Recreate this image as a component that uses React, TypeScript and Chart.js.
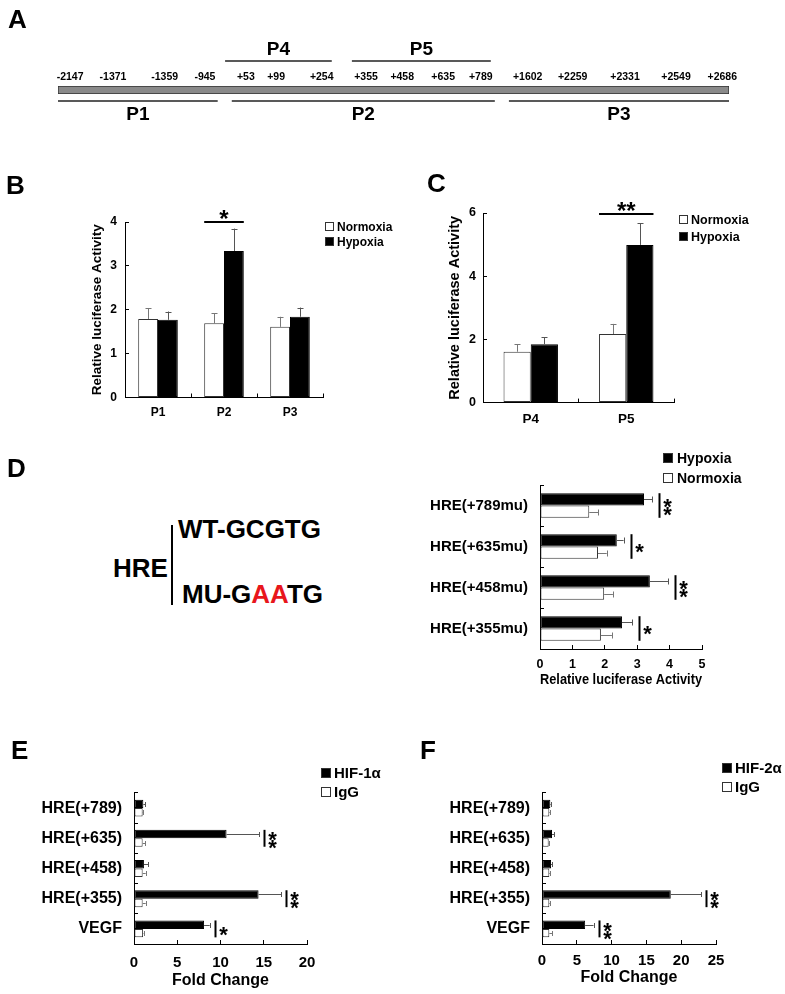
import React, { useEffect, useRef } from 'react';
import { Chart, registerables } from 'chart.js';

Chart.register(...registerables);

const FONT = '"Liberation Sans", Arial, Helvetica, sans-serif';
const NARROW = '"Liberation Sans Narrow", "Arial Narrow", "Liberation Sans", sans-serif';
Chart.defaults.font.family = FONT;
Chart.defaults.font.weight = 'bold';
Chart.defaults.color = '#000';

// ---------------- Panel A: promoter construct map ----------------
const siteLabels = ['-2147', '-1371', '-1359', '-945', '+53', '+99', '+254', '+355', '+458', '+635', '+789', '+1602', '+2259', '+2331', '+2549', '+2686'];
const sitePos = [1.8, 8.2, 15.9, 21.9, 28.0, 32.5, 39.3, 45.9, 51.3, 57.4, 63.0, 70.0, 76.7, 84.5, 92.1, 99.0];
const fragNames = ['P1', 'P2', 'P3', 'P4', 'P5'];
const fragStart = [0, 25.9, 67.2, 24.9, 43.8];
const fragEnd = [23.8, 65.1, 100, 40.8, 64.5];
const fragAbove = [false, false, false, true, true];
const constructSpan = [0, 100];

// ---------------- Panel B ----------------
const bCats = ['P1', 'P2', 'P3'];
const bNormoxia = [1.79, 1.69, 1.61];
const bNormoxiaSD = [0.25, 0.23, 0.23];
const bHypoxia = [1.77, 3.34, 1.84];
const bHypoxiaSD = [0.19, 0.51, 0.21];
const bSig = [{ index: 1, text: '*' }];
const bMax = 4;
const bStep = 1;

// ---------------- Panel C ----------------
const cCats = ['P4', 'P5'];
const cNormoxia = [1.61, 2.17];
const cNormoxiaSD = [0.24, 0.32];
const cHypoxia = [1.85, 4.99];
const cHypoxiaSD = [0.22, 0.68];
const cSig = [{ index: 1, text: '**' }];
const cMax = 6;
const cStep = 2;

// ---------------- Panel D ----------------
const dCats = ['HRE(+789mu)', 'HRE(+635mu)', 'HRE(+458mu)', 'HRE(+355mu)'];
const dHypoxia = [3.21, 2.37, 3.39, 2.53];
const dHypoxiaSD = [0.25, 0.21, 0.56, 0.31];
const dNormoxia = [1.52, 1.79, 1.98, 1.88];
const dNormoxiaSD = [0.27, 0.27, 0.27, 0.34];
const dSig = [{ index: 0, text: '**' }, { index: 1, text: '*' }, { index: 2, text: '**' }, { index: 3, text: '*' }];
const dMax = 5;
const dStep = 1;

// ---------------- Panel E ----------------
const eCats = ['HRE(+789)', 'HRE(+635)', 'HRE(+458)', 'HRE(+355)', 'VEGF'];
const eHif1a = [1.08, 10.7, 1.15, 14.4, 8.1];
const eHif1aSD = [0.2, 3.75, 0.5, 2.6, 0.65];
const eIgG = [1.0, 1.0, 1.0, 1.0, 1.05];
const eIgGSD = [0.08, 0.3, 0.35, 0.35, 0.05];
const eSig = [{ index: 1, text: '**' }, { index: 3, text: '**' }, { index: 4, text: '*' }];
const eMax = 20;
const eStep = 5;

// ---------------- Panel F ----------------
const fCats = ['HRE(+789)', 'HRE(+635)', 'HRE(+458)', 'HRE(+355)', 'VEGF'];
const fHif2a = [1.2, 1.44, 1.3, 18.5, 6.2];
const fHif2aSD = [0.1, 0.33, 0.14, 4.4, 1.2];
const fIgG = [1.05, 0.96, 1.05, 1.05, 1.05];
const fIgGSD = [0.1, 0.1, 0.1, 0.1, 0.39];
const fSig = [{ index: 3, text: '**' }, { index: 4, text: '**' }];
const fMax = 25;
const fStep = 5;

// ---------------- plugins ----------------
const errorBarPlugin = {
  id: 'errorBars',
  afterDatasetsDraw(chart: any, _a: any, o: any) {
    const { ctx } = chart;
    const horiz = chart.options.indexAxis === 'y';
    const vScale = horiz ? chart.scales.x : chart.scales.y;
    chart.data.datasets.forEach((ds: any, di: number) => {
      const errs = o.errors?.[di];
      if (!errs) return;
      const meta = chart.getDatasetMeta(di);
      meta.data.forEach((el: any, i: number) => {
        const v = ds.data[i] as number;
        const e = errs[i];
        if (!e) return;
        const end = vScale.getPixelForValue(v + e);
        const p = el.getProps(['x', 'y', 'width', 'height'], true);
        const cap = o.cap ?? 6;
        ctx.save();
        ctx.strokeStyle = o.colors?.[di] ?? '#555';
        ctx.lineWidth = 1;
        ctx.beginPath();
        if (horiz) {
          const y = Math.round(p.y) + 0.5;
          ctx.moveTo(p.x, y);
          ctx.lineTo(end, y);
          ctx.moveTo(Math.round(end) + 0.5, y - cap / 2);
          ctx.lineTo(Math.round(end) + 0.5, y + cap / 2);
        } else {
          const x = Math.round(p.x) + 0.5;
          ctx.moveTo(x, p.y);
          ctx.lineTo(x, end);
          ctx.moveTo(x - cap / 2, Math.round(end) + 0.5);
          ctx.lineTo(x + cap / 2, Math.round(end) + 0.5);
        }
        ctx.stroke();
        ctx.restore();
      });
    });
  },
};

const STAR_RISE = 0.58;

const sigPlugin = {
  id: 'sig',
  afterDatasetsDraw(chart: any, _a: any, o: any) {
    if (!o.marks) return;
    const { ctx, chartArea } = chart;
    const horiz = chart.options.indexAxis === 'y';
    const errs = chart.options.plugins.errorBars?.errors ?? [];
    const size = o.size ?? 22;
    ctx.save();
    ctx.fillStyle = '#000';
    ctx.strokeStyle = '#000';
    ctx.lineWidth = o.lineWidth ?? 2;
    ctx.font = `bold ${size}px ${FONT}`;
    ctx.textAlign = 'center';
    ctx.textBaseline = 'alphabetic';
    o.marks.forEach((m: any) => {
      const els = chart.data.datasets.map((_: any, di: number) => chart.getDatasetMeta(di).data[m.index].getProps(['x', 'y', 'width', 'height'], true));
      if (!horiz) {
        const left = Math.min(...els.map((p: any) => p.x - p.width / 2));
        const right = Math.max(...els.map((p: any) => p.x + p.width / 2));
        const y = chartArea.top + (o.lineDy ?? 0);
        ctx.beginPath();
        ctx.moveTo(left, y);
        ctx.lineTo(right, y);
        ctx.stroke();
        ctx.fillText(m.text, (left + right) / 2, y - (o.starGap ?? 9) + STAR_RISE * size);
      } else {
        const top = Math.min(...els.map((p: any) => p.y - p.height / 2));
        const bottom = Math.max(...els.map((p: any) => p.y + p.height / 2));
        const xEnd = Math.max(...chart.data.datasets.map((ds: any, di: number) =>
          chart.scales.x.getPixelForValue((ds.data[m.index] as number) + (errs[di]?.[m.index] ?? 0))));
        const x = Math.round(xEnd + (o.gap ?? 5)) + 0.5;
        ctx.beginPath();
        ctx.moveTo(x, top);
        ctx.lineTo(x, bottom);
        ctx.stroke();
        const chars = m.text.split('');
        const cy = (top + bottom) / 2;
        const sp = o.spacing ?? 8;
        chars.forEach((ch: string, k: number) => {
          const yy = cy + (k - (chars.length - 1) / 2) * sp;
          ctx.fillText(ch, x + (o.starDx ?? 8), yy + STAR_RISE * size);
        });
      }
    });
    ctx.restore();
  },
};

const boxLegendPlugin = {
  id: 'boxLegend',
  afterDraw(chart: any, _a: any, o: any) {
    if (!o.items) return;
    const { ctx, chartArea } = chart;
    ctx.save();
    ctx.font = `bold ${o.size}px ${FONT}`;
    ctx.textBaseline = 'middle';
    ctx.textAlign = 'left';
    o.items.forEach((di: number, row: number) => {
      const ds = chart.data.datasets[di];
      const x = Math.round(chartArea.right + o.dx);
      const y = Math.round(chartArea.top + o.dy + row * o.row);
      ctx.fillStyle = ds.backgroundColor;
      ctx.fillRect(x, y, o.box, o.box);
      ctx.strokeStyle = '#333';
      ctx.lineWidth = 1;
      ctx.strokeRect(x + 0.5, y + 0.5, o.box - 1, o.box - 1);
      ctx.fillStyle = '#000';
      ctx.fillText(ds.label, x + o.box + (o.gap ?? 3), y + o.box / 2 + 1);
    });
    ctx.restore();
  },
};

const fragmentPlugin = {
  id: 'fragments',
  afterDatasetsDraw(chart: any, _a: any, o: any) {
    const { ctx, chartArea } = chart;
    const xs = chart.scales.x;
    ctx.save();
    ctx.strokeStyle = '#222';
    ctx.lineWidth = 1.5;
    ctx.fillStyle = '#000';
    ctx.font = `bold ${o.size}px ${NARROW}`;
    ctx.textAlign = 'center';
    ctx.textBaseline = 'middle';
    fragNames.forEach((name, i) => {
      const x1 = xs.getPixelForValue(fragStart[i]);
      const x2 = xs.getPixelForValue(fragEnd[i]);
      const ly = fragAbove[i] ? chartArea.top - o.aboveLine : chartArea.bottom + o.belowLine;
      const ty = fragAbove[i] ? chartArea.top - o.aboveText : chartArea.bottom + o.belowText;
      ctx.beginPath();
      ctx.moveTo(x1, ly);
      ctx.lineTo(x2, ly);
      ctx.stroke();
      ctx.fillText(name, (x1 + x2) / 2, ty);
    });
    ctx.restore();
  },
};

// ---------------- config builders ----------------
type Rect = { x: number; y: number; w: number; h: number };
type Area = { l: number; t: number; r: number; b: number };
const TICK = 4;

function barConfig(s: any) {
  const horiz = !!s.horizontal;
  const padLeft = s.leftTitle ? s.leftTitle.cx - s.canvas.x - (s.leftTitle.size * 1.2) / 2 : 0;
  const wy = s.area.l - s.canvas.x - padLeft;
  const hx = s.bottomTitle ? s.bottomTitle.cy - s.area.b + (s.bottomTitle.size * 1.2) / 2 : s.bottomHeight;
  const padding = {
    left: padLeft,
    top: s.area.t - s.canvas.y,
    right: s.canvas.x + s.canvas.w - s.area.r,
    bottom: s.canvas.y + s.canvas.h - s.area.b - hx,
  };
  const leftTickPad = s.area.l + TICK - s.leftTickRight;
  const bottomTickPad = s.bottomTickCy - s.area.b + TICK - (s.bottomTickSize * 1.2) / 2;
  const grid = { drawOnChartArea: false, drawTicks: true, tickLength: -TICK, color: '#000', tickColor: '#000', tickWidth: 1 };
  const border = { color: '#000', width: 1 };
  const valueScale = { type: 'linear', min: 0, max: s.max, ticks: { stepSize: s.step } };
  const catScale = { type: 'category', offset: true, grid: { offset: true } };
  const xBase: any = horiz ? valueScale : catScale;
  const yBase: any = horiz ? catScale : valueScale;
  return {
    type: 'bar',
    data: {
      labels: s.labels,
      datasets: s.series.map((d: any) => ({
        label: d.label,
        data: d.data,
        backgroundColor: d.black ? '#000' : '#fff',
        borderColor: d.black ? '#000' : '#333',
        borderWidth: 1,
        borderSkipped: false,
        categoryPercentage: s.catPct,
        barPercentage: 1,
      })),
    },
    options: {
      indexAxis: horiz ? 'y' : 'x',
      responsive: false,
      maintainAspectRatio: false,
      animation: false,
      devicePixelRatio: 1,
      layout: { autoPadding: false, padding },
      scales: {
        x: {
          ...xBase,
          position: 'bottom',
          grid: { ...grid, offset: !horiz },
          border,
          afterFit: (sc: any) => { sc.height = hx; },
          ticks: {
            ...(xBase.ticks || {}),
            padding: bottomTickPad,
            maxRotation: 0,
            minRotation: 0,
            autoSkip: false,
            color: '#000',
            font: { size: s.bottomTickSize, weight: 'bold', family: FONT },
          },
          title: s.bottomTitle
            ? { display: true, text: s.bottomTitle.text, color: '#000', padding: 0, font: { size: s.bottomTitle.size, weight: 'bold', family: FONT } }
            : { display: false },
        },
        y: {
          ...yBase,
          position: 'left',
          grid: { ...grid, offset: horiz },
          border,
          afterFit: (sc: any) => { sc.width = wy; },
          ticks: {
            ...(yBase.ticks || {}),
            padding: leftTickPad,
            autoSkip: false,
            color: '#000',
            font: { size: s.leftTickSize, weight: 'bold', family: FONT },
          },
          title: s.leftTitle
            ? { display: true, text: s.leftTitle.text, color: '#000', padding: 0, font: { size: s.leftTitle.size, weight: 'bold', family: FONT } }
            : { display: false },
        },
      },
      plugins: {
        legend: { display: false },
        tooltip: { enabled: false },
        errorBars: { errors: s.series.map((d: any) => d.sd), colors: s.series.map((d: any) => (d.black ? '#555' : '#777')), cap: s.cap ?? 6 },
        sig: s.sig,
        boxLegend: s.legend,
      },
    },
    plugins: [errorBarPlugin, sigPlugin, boxLegendPlugin],
  };
}

const rectA: Rect = { x: 0, y: 0, w: 785, h: 135 };
const areaA: Area = { l: 58, t: 86, r: 729, b: 94 };

function configA() {
  return {
    type: 'bar',
    data: {
      labels: ['construct'],
      datasets: [{
        data: [constructSpan],
        backgroundColor: '#8a8a8a',
        borderColor: '#333',
        borderWidth: 1,
        borderSkipped: false,
        barPercentage: 1,
        categoryPercentage: 1,
      }],
    },
    options: {
      indexAxis: 'y',
      responsive: false,
      maintainAspectRatio: false,
      animation: false,
      devicePixelRatio: 1,
      layout: {
        autoPadding: false,
        padding: { left: areaA.l - rectA.x, right: rectA.x + rectA.w - areaA.r, top: areaA.t - rectA.y - 20, bottom: rectA.y + rectA.h - areaA.b },
      },
      scales: {
        x: {
          type: 'linear',
          position: 'top',
          min: 0,
          max: 100,
          grid: { display: false, drawTicks: false },
          border: { display: false },
          afterFit: (sc: any) => { sc.height = 20; },
          afterBuildTicks: (sc: any) => { sc.ticks = sitePos.map((v) => ({ value: v })); },
          ticks: {
            autoSkip: false,
            maxRotation: 0,
            minRotation: 0,
            padding: 3,
            color: '#000',
            font: { family: NARROW, size: 10.5, weight: 'bold' },
            callback: (_v: any, i: number) => siteLabels[i],
          },
        },
        y: { display: false },
      },
      plugins: {
        legend: { display: false },
        tooltip: { enabled: false },
        fragments: { size: 19, aboveLine: 25, aboveText: 36, belowLine: 7, belowText: 21 },
      },
    },
    plugins: [fragmentPlugin],
  };
}

const rectB: Rect = { x: 40, y: 190, w: 360, h: 245 };
const rectC: Rect = { x: 420, y: 190, w: 365, h: 245 };
const rectD: Rect = { x: 400, y: 440, w: 385, h: 260 };
const rectE: Rect = { x: 0, y: 740, w: 400, h: 254 };
const rectF: Rect = { x: 400, y: 740, w: 385, h: 254 };

const configB = () => barConfig({
  labels: bCats,
  series: [
    { label: 'Normoxia', data: bNormoxia, sd: bNormoxiaSD, black: false },
    { label: 'Hypoxia', data: bHypoxia, sd: bHypoxiaSD, black: true },
  ],
  max: bMax, step: bStep, catPct: 0.6,
  canvas: rectB, area: { l: 125, t: 222, r: 323, b: 397.5 },
  leftTitle: { text: 'Relative luciferase Activity', size: 13.5, cx: 97 },
  bottomHeight: 30,
  leftTickRight: 117, leftTickSize: 12,
  bottomTickCy: 413, bottomTickSize: 12,
  sig: { marks: bSig, size: 24, lineDy: 0, starGap: 9, lineWidth: 2 },
  legend: { items: [0, 1], dx: 2, dy: 0, row: 15, box: 9, size: 12, gap: 3 },
});

const configC = () => barConfig({
  labels: cCats,
  series: [
    { label: 'Normoxia', data: cNormoxia, sd: cNormoxiaSD, black: false },
    { label: 'Hypoxia', data: cHypoxia, sd: cHypoxiaSD, black: true },
  ],
  max: cMax, step: cStep, catPct: 0.57,
  canvas: rectC, area: { l: 483, t: 213, r: 674, b: 402.6 },
  leftTitle: { text: 'Relative luciferase Activity', size: 14.5, cx: 455 },
  bottomHeight: 30,
  leftTickRight: 476, leftTickSize: 12.5,
  bottomTickCy: 419, bottomTickSize: 13.5,
  sig: { marks: cSig, size: 24, lineDy: 1, starGap: 9, lineWidth: 2 },
  legend: { items: [0, 1], dx: 5, dy: 2, row: 17, box: 9, size: 12.5, gap: 3 },
});

const configD = () => barConfig({
  horizontal: true,
  labels: dCats,
  series: [
    { label: 'Hypoxia', data: dHypoxia, sd: dHypoxiaSD, black: true },
    { label: 'Normoxia', data: dNormoxia, sd: dNormoxiaSD, black: false },
  ],
  max: dMax, step: dStep, catPct: 0.6,
  canvas: rectD, area: { l: 540, t: 485, r: 702, b: 649 },
  bottomTitle: { text: 'Relative luciferase Activity', size: 15, cy: 680 },
  leftTickRight: 528, leftTickSize: 15,
  bottomTickCy: 665, bottomTickSize: 12.5,
  sig: { marks: dSig, size: 22, gap: 7, starDx: 8, spacing: 8, lineWidth: 2 },
  legend: { items: [0, 1], dx: -39, dy: -32, row: 19.5, box: 10, size: 14, gap: 4 },
});

const configE = () => barConfig({
  horizontal: true,
  labels: eCats,
  series: [
    { label: 'HIF-1α', data: eHif1a, sd: eHif1aSD, black: true },
    { label: 'IgG', data: eIgG, sd: eIgGSD, black: false },
  ],
  max: eMax, step: eStep, catPct: 0.56, cap: 5,
  canvas: rectE, area: { l: 134, t: 793, r: 307, b: 944 },
  bottomTitle: { text: 'Fold Change', size: 16, cy: 981 },
  leftTickRight: 122, leftTickSize: 16,
  bottomTickCy: 963, bottomTickSize: 15,
  sig: { marks: eSig, size: 22, gap: 5, starDx: 8, spacing: 8, lineWidth: 2 },
  legend: { items: [0, 1], dx: 14, dy: -25, row: 19, box: 10, size: 15, gap: 3 },
});

const configF = () => barConfig({
  horizontal: true,
  labels: fCats,
  series: [
    { label: 'HIF-2α', data: fHif2a, sd: fHif2aSD, black: true },
    { label: 'IgG', data: fIgG, sd: fIgGSD, black: false },
  ],
  max: fMax, step: fStep, catPct: 0.56, cap: 5,
  canvas: rectF, area: { l: 542, t: 793, r: 716, b: 944 },
  bottomTitle: { text: 'Fold Change', size: 16, cy: 978 },
  leftTickRight: 530, leftTickSize: 16,
  bottomTickCy: 961, bottomTickSize: 15,
  sig: { marks: fSig, size: 22, gap: 5, starDx: 8, spacing: 8, lineWidth: 2 },
  legend: { items: [0, 1], dx: 6, dy: -30, row: 19, box: 10, size: 15, gap: 3 },
});

function ChartBox({ rect, make }: { rect: Rect; make: () => any }) {
  const ref = useRef<HTMLCanvasElement>(null);
  useEffect(() => {
    const chart = new Chart(ref.current as HTMLCanvasElement, make() as any);
    return () => chart.destroy();
  }, []);
  return (
    <canvas
      ref={ref}
      width={rect.w}
      height={rect.h}
      style={{ position: 'absolute', left: rect.x, top: rect.y, width: rect.w, height: rect.h }}
    />
  );
}

const letterStyle = (x: number, capTop: number): React.CSSProperties => ({
  position: 'absolute',
  left: x,
  top: capTop - 3.4,
  fontSize: 26,
  lineHeight: '26px',
  fontWeight: 'bold',
  whiteSpace: 'nowrap',
});

export default function App() {
  return (
    <div style={{ position: 'absolute', left: 0, top: 0, width: 785, height: 994, background: '#fff', fontFamily: FONT, color: '#000', overflow: 'hidden' }}>
      <ChartBox rect={rectA} make={configA} />
      <ChartBox rect={rectB} make={configB} />
      <ChartBox rect={rectC} make={configC} />
      <ChartBox rect={rectD} make={configD} />
      <ChartBox rect={rectE} make={configE} />
      <ChartBox rect={rectF} make={configF} />

      <div style={letterStyle(8, 9)}>A</div>
      <div style={letterStyle(6, 175)}>B</div>
      <div style={letterStyle(427, 173)}>C</div>
      <div style={letterStyle(7, 458)}>D</div>
      <div style={letterStyle(11, 740)}>E</div>
      <div style={letterStyle(420, 740)}>F</div>

      <div style={{ position: 'absolute', left: 113, top: 554.6, fontSize: 26, lineHeight: '26px', fontWeight: 'bold' }}>HRE</div>
      <div style={{ position: 'absolute', left: 171, top: 525, width: 2, height: 80, background: '#000' }} />
      <div style={{ position: 'absolute', left: 178, top: 516, fontSize: 26, lineHeight: '26px', fontWeight: 'bold', whiteSpace: 'nowrap' }}>WT-GCGTG</div>
      <div style={{ position: 'absolute', left: 182, top: 581, fontSize: 26, lineHeight: '26px', fontWeight: 'bold', whiteSpace: 'nowrap' }}>
        MU-G<span style={{ color: '#e8161c' }}>AA</span>TG
      </div>
    </div>
  );
}
